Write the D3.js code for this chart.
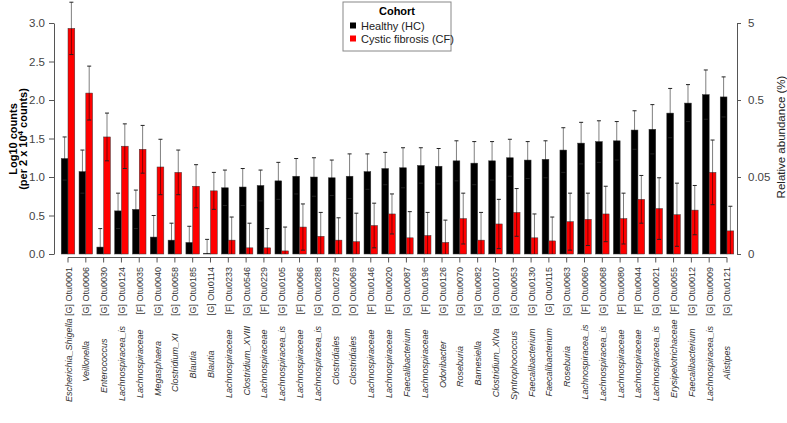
<!DOCTYPE html>
<html>
<head>
<meta charset="utf-8">
<script src="https://cdn.jsdelivr.net/npm/d3@7"></script>
<style>
  body { margin: 0; background: #fff; }
  svg { font-family: "Liberation Sans", Arial, sans-serif; }
</style>
</head>
<body>
<div id="chart"></div>
<script>
// taxa names, rank and OTU ids
const taxa = ['Escherichia_Shigella', 'Veillonella', 'Enterococcus', 'Lachnospiracea_is', 'Lachnospiraceae',
  'Megasphaera', 'Clostridium_XI', 'Blautia', 'Blautia', 'Lachnospiraceae', 'Clostridium_XVIII', 'Lachnospiraceae',
  'Lachnospiracea_is', 'Lachnospiraceae', 'Lachnospiracea_is', 'Clostridiales', 'Clostridiales', 'Lachnospiraceae',
  'Lachnospiraceae', 'Faecalibacterium', 'Lachnospiraceae', 'Odoribacter', 'Roseburia', 'Barnesiella',
  'Clostridium_XlVa', 'Syntrophococcus', 'Faecalibacterium', 'Faecalibacterium', 'Roseburia', 'Lachnospiracea_is',
  'Lachnospiracea_is', 'Lachnospiraceae', 'Lachnospiraceae', 'Lachnospiracea_is', 'Erysipelotrichaceae',
  'Faecalibacterium', 'Lachnospiracea_is', 'Alistipes']
const ranks = ['G', 'G', 'G', 'G', 'F', 'G', 'G', 'G', 'G', 'F', 'G', 'F', 'G', 'F', 'G', 'O', 'O', 'F', 'F', 'G',
  'F', 'G', 'G', 'G', 'G', 'G', 'G', 'G', 'G', 'F', 'G', 'F', 'F', 'G', 'F', 'G', 'G', 'G']
const otus = ['Otu0001', 'Otu0006', 'Otu0030', 'Otu0124', 'Otu0035', 'Otu0040', 'Otu0058', 'Otu0185', 'Otu0114',
  'Otu0233', 'Otu0546', 'Otu0229', 'Otu0105', 'Otu0066', 'Otu0288', 'Otu0278', 'Otu0069', 'Otu0146', 'Otu0020',
  'Otu0087', 'Otu0196', 'Otu0126', 'Otu0070', 'Otu0082', 'Otu0107', 'Otu0053', 'Otu0130', 'Otu0115', 'Otu0063',
  'Otu0060', 'Otu0068', 'Otu0080', 'Otu0044', 'Otu0021', 'Otu0055', 'Otu0012', 'Otu0009', 'Otu0121']

// mean log10 counts and error (+/-)
const hcMean = [1.24, 1.07, 0.09, 0.56, 0.58, 0.22, 0.18, 0.15, 0.01, 0.86, 0.87, 0.89, 0.95, 1.01, 1.00, 0.99, 1.01,
  1.07, 1.11, 1.12, 1.15, 1.14, 1.21, 1.18, 1.21, 1.25, 1.22, 1.23, 1.35, 1.44, 1.46, 1.47, 1.61, 1.62, 1.83, 1.96,
  2.07, 2.04]
const hcErr = [0.28, 0.28, 0.24, 0.23, 0.25, 0.28, 0.22, 0.21, 0.18, 0.23, 0.24, 0.20, 0.24, 0.23, 0.25, 0.23, 0.29,
  0.23, 0.21, 0.26, 0.23, 0.23, 0.26, 0.28, 0.25, 0.24, 0.24, 0.24, 0.29, 0.27, 0.27, 0.25, 0.25, 0.32, 0.32, 0.24,
  0.32, 0.26]
const cfMean = [2.93, 2.09, 1.52, 1.40, 1.36, 1.13, 1.06, 0.88, 0.82, 0.18, 0.08, 0.08, 0.04, 0.35, 0.23, 0.18, 0.16,
  0.37, 0.52, 0.21, 0.24, 0.15, 0.46, 0.18, 0.39, 0.54, 0.21, 0.17, 0.42, 0.45, 0.52, 0.46, 0.71, 0.59, 0.51, 0.57,
  1.06, 0.30]
const cfErr = [0.34, 0.35, 0.31, 0.29, 0.31, 0.36, 0.29, 0.28, 0.24, 0.30, 0.32, 0.25, 0.31, 0.30, 0.31, 0.29, 0.37,
  0.29, 0.26, 0.34, 0.30, 0.29, 0.33, 0.36, 0.32, 0.31, 0.31, 0.31, 0.37, 0.34, 0.36, 0.33, 0.31, 0.40, 0.41, 0.32,
  0.42, 0.32]

const leftTicks = [0, 0.5, 1, 1.5, 2, 2.5, 3]
const rightTicks = [0, 1, 2, 3]
const rightTickLabels = ['0', '0.05', '0.5', '5']
const groups = ['Healthy (HC)', 'Cystic fibrosis (CF)']
const colors = ['#000000', '#ff0000']

const width = 787, height = 423

const svg = d3.select('#chart').append('svg')
  .attr('width', width)
  .attr('height', height)

const ids = taxa.map((d, i) => i)

const x = d3.scaleBand()
  .domain(ids)
  .range([59.1, 735.9])
  .paddingInner(0.24)
  .paddingOuter(0.12)

const y = d3.scaleLinear()
  .domain([0, 3])
  .range([254, 23])

const axisCol = '#555'
const barW = x.bandwidth() / 2

// bars + error bars
const series = [
  { mean: hcMean, err: hcErr, off: 0 },
  { mean: cfMean, err: cfErr, off: 1 }
]

series.forEach((s, si) => {
  const g = svg.append('g')
  ids.forEach(i => {
    const x0 = x(i) + s.off * barW
    g.append('rect')
      .attr('x', x0)
      .attr('y', y(s.mean[i]))
      .attr('width', barW)
      .attr('height', y(0) - y(s.mean[i]))
      .attr('fill', colors[si])
      .attr('stroke', '#3a3a3a')
      .attr('stroke-width', 0.5)
  })
})

series.forEach((s, si) => {
  const g = svg.append('g')
  ids.forEach(i => {
    const cx = x(i) + s.off * barW + barW / 2
    const hi = s.mean[i] + s.err[i]
    const lo = Math.max(0, s.mean[i] - s.err[i])
    g.append('line')
      .attr('x1', cx).attr('x2', cx)
      .attr('y1', y(lo)).attr('y2', y(hi))
      .attr('stroke', '#000')
      .attr('stroke-opacity', 0.5)
      .attr('stroke-width', 1)
    g.append('line')
      .attr('x1', cx - 2).attr('x2', cx + 2)
      .attr('y1', y(hi)).attr('y2', y(hi))
      .attr('stroke', '#222')
      .attr('stroke-width', 1)
    if (s.mean[i] - s.err[i] > 0) {
      g.append('line')
        .attr('x1', cx - 2).attr('x2', cx + 2)
        .attr('y1', y(lo)).attr('y2', y(lo))
        .attr('stroke', '#222')
        .attr('stroke-width', 1)
    }
  })
})

// left axis
const yAxis = svg.append('g')
  .attr('transform', 'translate(54,0)')
  .call(d3.axisLeft(y).tickValues(leftTicks).tickFormat(d3.format('.1f')).tickSize(5).tickSizeOuter(0).tickPadding(4))
yAxis.select('.domain').attr('stroke', axisCol)
yAxis.selectAll('.tick line').attr('stroke', axisCol)
yAxis.selectAll('.tick text').attr('fill', '#444').style('font-size', '11.5px')

// right axis
const yAxisR = svg.append('g')
  .attr('transform', 'translate(737,0)')
  .call(d3.axisRight(y).tickValues(rightTicks).tickFormat((d, i) => rightTickLabels[i]).tickSize(4).tickSizeOuter(0).tickPadding(7))
yAxisR.select('.domain').attr('stroke', axisCol)
yAxisR.selectAll('.tick line').attr('stroke', axisCol)
yAxisR.selectAll('.tick text').attr('fill', '#444').style('font-size', '11.5px')

// x axis, R style: line from first to last tick
const centers = ids.map(i => x(i) + x.bandwidth() / 2)
svg.append('line')
  .attr('x1', centers[0]).attr('x2', centers[centers.length - 1])
  .attr('y1', 257.5).attr('y2', 257.5)
  .attr('stroke', axisCol)
const xg = svg.append('g')
const labTop = 267
const spaceW = 9 * 0.278
ids.forEach(i => {
  xg.append('line')
    .attr('x1', centers[i]).attr('x2', centers[i])
    .attr('y1', 257.5).attr('y2', 262.5)
    .attr('stroke', axisCol)
  // suffix "[G] Otu0001" reads up to the tick, name padded like sprintf("%-20s")
  const suf = xg.append('text')
    .attr('transform', `translate(${centers[i] + 3.5},${labTop}) rotate(-90)`)
    .attr('text-anchor', 'end')
    .attr('fill', '#333')
    .style('font-size', '9px')
    .text(`[${ranks[i]}] ${otus[i]}`)
  const sufLen = suf.node().getComputedTextLength()
  const gap = (21 - taxa[i].length) * spaceW
  xg.append('text')
    .attr('transform', `translate(${centers[i] + 3.5},${labTop + sufLen + gap}) rotate(-90)`)
    .attr('text-anchor', 'end')
    .attr('fill', '#333')
    .style('font-size', '9px')
    .style('font-style', 'italic')
    .text(taxa[i])
})

// axis titles
svg.append('text')
  .attr('transform', 'translate(17,139) rotate(-90)')
  .attr('text-anchor', 'middle')
  .style('font-size', '11px').style('font-weight', 'bold')
  .text('Log10 counts')
const lt2 = svg.append('text')
  .attr('transform', 'translate(27,139) rotate(-90)')
  .attr('text-anchor', 'middle')
  .style('font-size', '11px').style('font-weight', 'bold')
lt2.append('tspan').text('(per 2 x 10')
lt2.append('tspan').attr('dy', -4).style('font-size', '8px').text('4')
lt2.append('tspan').attr('dy', 4).text(' counts)')

svg.append('text')
  .attr('transform', 'translate(785,137) rotate(-90)')
  .attr('text-anchor', 'middle')
  .attr('fill', '#222')
  .style('font-size', '11.5px')
  .text('Relative abundance (%)')

// legend
const lg = svg.append('g').attr('transform', 'translate(343,2)')
lg.append('rect')
  .attr('width', 108).attr('height', 49)
  .attr('fill', '#fff').attr('stroke', '#888')
lg.append('text')
  .attr('x', 54).attr('y', 13)
  .attr('text-anchor', 'middle')
  .style('font-size', '11px').style('font-weight', 'bold')
  .text('Cohort')
groups.forEach((name, i) => {
  lg.append('rect')
    .attr('x', 7).attr('y', 20.5 + i * 13)
    .attr('width', 6).attr('height', 6)
    .attr('fill', colors[i])
  lg.append('text')
    .attr('x', 18).attr('y', 27.5 + i * 13)
    .attr('fill', '#222')
    .style('font-size', '11px')
    .text(name)
})
</script>
</body>
</html>
